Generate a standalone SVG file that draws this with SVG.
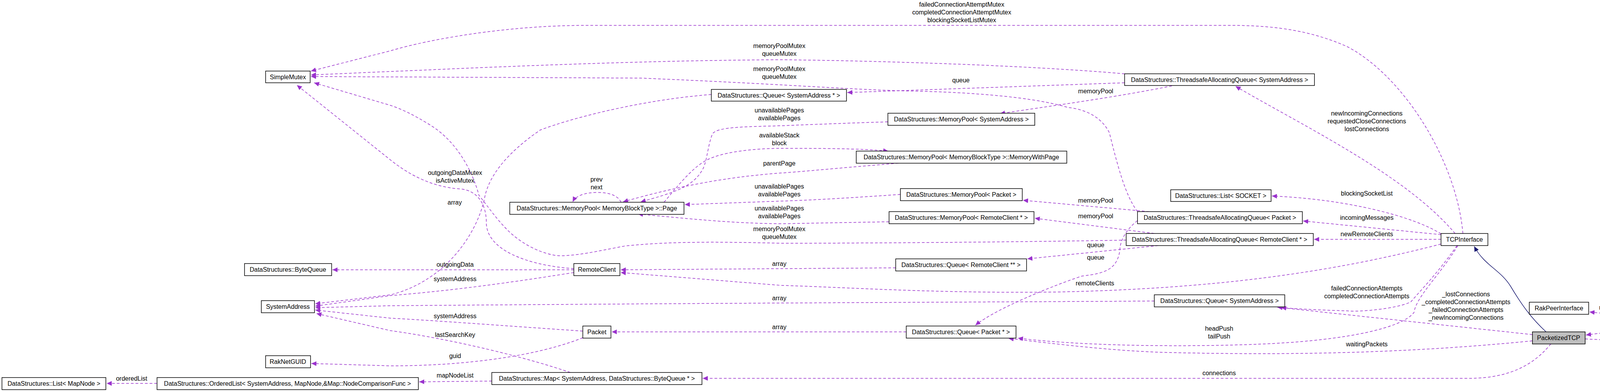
<svg xmlns="http://www.w3.org/2000/svg" width="4829" height="1004" viewBox="0 0 4829 1004">
<style>
text{font-family:"Liberation Sans",Arial,sans-serif;font-size:16px;fill:#000}
.n rect{fill:#fff;stroke:#000;stroke-width:1.5}
.n text{text-anchor:middle}
.e path{fill:none;stroke:#9a32cd;stroke-width:1.5;stroke-dasharray:7,5;marker-end:url(#a)}
.e path.inh{stroke:#191970;stroke-dasharray:none;marker-end:url(#b)}
.l text{text-anchor:middle}
</style>
<defs>
<marker id="a" markerWidth="14" markerHeight="12" refX="13" refY="6" orient="auto" markerUnits="userSpaceOnUse"><path d="M0,0 L13,6 L0,12 z" fill="#9a32cd"/></marker>
<marker id="b" markerWidth="14" markerHeight="12" refX="13" refY="6" orient="auto" markerUnits="userSpaceOnUse"><path d="M0,0 L13,6 L0,12 z" fill="#191970"/></marker>
</defs>
<rect width="4829" height="1004" fill="#fff"/>
<g class="e">
<path d="M3745,598 C3730,420 3600,200 3450,120 C3350,75 3250,65 3150,65 L1500,65 C1300,65 1100,100 1000,130 L796,182"/>
<path d="M3725,598 C3600,450 3350,330 3163,221"/>
<path d="M3689,599 C3620,555 3450,510 3256,502"/>
<path d="M3689,601 L3336,566"/>
<path d="M3689,613 L3364,613"/>
<path d="M3689,625 C3400,700 3100,740 2700,748 C2400,752 2150,735 2000,731 L1589,698"/>
<path d="M3730,629 C3680,700 3640,740 3612,773 C3580,790 3480,800 3446,796 C3400,795 3330,792 3270,787"/>
<path d="M3732,629 C3690,700 3625,760 3620,800 C3590,840 3450,870 3255,880 C3100,888 2800,890 2606,866"/>
<path d="M3923,857 L3280,788"/>
<path d="M3923,873 C3600,905 3300,910 3000,903 C2850,900 2700,880 2582,867"/>
<path d="M3970,881 C3930,930 3870,969 3760,969 L1799,969"/>
<path class="inh" d="M3958,850 C3920,815 3895,780 3867,733 C3840,690 3800,680 3774,631"/>
<path d="M4058,868 C4200,876 4350,877 4497,869"/>
<path d="M4244,816 L4069,799"/>
<path d="M4244,835 L4060,858"/>
<path d="M4505,843 L4389,831"/>
<path d="M2879,189 C2600,165 2200,155 2000,153 C1600,155 1200,175 1000,183 L796,192"/>
<path d="M2879,212 L2169,237"/>
<path d="M3000,220 C2850,250 2700,270 2560,291"/>
<path d="M2912,542 C2880,500 2860,420 2840,340 C2820,300 2780,280 2733,275 C2650,250 2500,236 2320,233 C2150,228 2000,215 1640,200 L796,196"/>
<path d="M2942,542 L2619,513"/>
<path d="M2912,565 C2880,590 2867,620 2867,640 C2860,690 2830,700 2770,707 C2700,730 2550,790 2497,833"/>
<path d="M2883,615 C2600,620 2200,623 2000,623 C1800,618 1700,620 1600,630 C1520,645 1480,655 1430,655 C1380,650 1330,620 1300,590 C1270,560 1250,530 1226,500 C1210,440 1170,360 1096,317 C1060,295 1030,280 1000,270 L804,212"/>
<path d="M2955,598 L2649,559"/>
<path d="M2965,629 L2630,663"/>
<path d="M1821,242 C1650,255 1470,300 1383,333 C1300,390 1250,450 1240,510 C1220,600 1140,720 1000,755 L807,778"/>
<path d="M2273,312 C2150,316 2050,320 2000,322 C1900,325 1830,325 1823,345 C1810,380 1810,420 1795,440 C1770,480 1720,495 1640,517"/>
<path d="M2300,418 C2150,430 2050,440 2000,443 C1880,452 1760,470 1595,517"/>
<path d="M1700,518 C1740,470 1780,420 1820,405 C1870,385 1950,380 2000,380 C2100,380 2200,380 2274,387"/>
<path d="M1590,518 C1580,498 1555,493 1529,493 C1500,493 1475,500 1466,517"/>
<path d="M2305,498 C2200,505 2100,512 2000,515 L1753,524"/>
<path d="M2276,568 L2000,573 C1900,572 1830,567 1633,548"/>
<path d="M1469,691 L851,691"/>
<path d="M1469,698 C1300,725 1150,745 1000,757 L807,784"/>
<path d="M1469,688 C1350,680 1245,640 1245,570 C1245,520 1220,488 1180,484 C1110,480 1050,450 1000,410 L760,218"/>
<path d="M2293,686 L1589,691"/>
<path d="M2955,771 C2500,774 2000,775 1000,783 L807,788"/>
<path d="M2320,850 L1566,850"/>
<path d="M1492,848 C1300,835 1100,820 1000,815 L807,794"/>
<path d="M1492,865 C1380,910 1200,937 1000,937 L797,931"/>
<path d="M1460,954 C1300,900 1100,860 1000,847 L810,803"/>
<path d="M1259,976 L1073,978"/>
<path d="M402,982 L273,982"/>
</g>
<g class="l">
<text x="2462" y="17">failedConnectionAttemptMutex</text>
<text x="2462" y="37">completedConnectionAttemptMutex</text>
<text x="2462" y="57">blockingSocketListMutex</text>
<text x="1995" y="123">memoryPoolMutex</text><text x="1995" y="143">queueMutex</text>
<text x="1995" y="182">memoryPoolMutex</text><text x="1995" y="202">queueMutex</text>
<text x="2460" y="211">queue</text>
<text x="2805" y="239">memoryPool</text>
<text x="1995" y="288">unavailablePages</text><text x="1995" y="308">availablePages</text>
<text x="1995" y="352">availableStack</text><text x="1995" y="372">block</text>
<text x="1995" y="424">parentPage</text>
<text x="1995" y="483">unavailablePages</text><text x="1995" y="503">availablePages</text>
<text x="1995" y="539">unavailablePages</text><text x="1995" y="559">availablePages</text>
<text x="1995" y="592">memoryPoolMutex</text><text x="1995" y="612">queueMutex</text>
<text x="1995" y="681">array</text>
<text x="1995" y="769">array</text>
<text x="1995" y="843">array</text>
<text x="2805" y="519">memoryPool</text>
<text x="2805" y="559">memoryPool</text>
<text x="2805" y="633">queue</text>
<text x="2805" y="665">queue</text>
<text x="2803" y="731">remoteClients</text>
<text x="3499" y="296">newIncomingConnections</text>
<text x="3499" y="316">requestedCloseConnections</text>
<text x="3499" y="336">lostConnections</text>
<text x="3499" y="501">blockingSocketList</text>
<text x="3499" y="563">incomingMessages</text>
<text x="3499" y="605">newRemoteClients</text>
<text x="3499" y="744">failedConnectionAttempts</text>
<text x="3499" y="764">completedConnectionAttempts</text>
<text x="3753" y="759">_lostConnections</text>
<text x="3753" y="779">_completedConnectionAttempts</text>
<text x="3753" y="799">_failedConnectionAttempts</text>
<text x="3753" y="819">_newIncomingConnections</text>
<text x="3121" y="847">headPush</text><text x="3121" y="867">tailPush</text>
<text x="3499" y="887">waitingPackets</text>
<text x="3121" y="961">connections</text>
<text x="4153" y="793">rakPeerInterface</text>
<text x="4153" y="831">packetizedTCP</text>
<text x="4443" y="827">listArray</text>
<text x="4316" y="863">messageHandlerList</text>
<text x="1165" y="448">outgoingDataMutex</text><text x="1165" y="468">isActiveMutex</text>
<text x="1527" y="465">prev</text><text x="1527" y="485">next</text>
<text x="1164" y="524">array</text>
<text x="1165" y="683">outgoingData</text>
<text x="1165" y="720">systemAddress</text>
<text x="1165" y="815">systemAddress</text>
<text x="1165" y="863">lastSearchKey</text>
<text x="1165" y="917">guid</text>
<text x="1165" y="967">mapNodeList</text>
<text x="337" y="975">orderedList</text>
</g>
<g id="n_simplemutex" class="n"><rect x="680" y="182" width="114" height="30"/><text x="737" y="203">SimpleMutex</text></g>
<g id="n_bytequeue" class="n"><rect x="626" y="675" width="223" height="31"/><text x="737" y="696">DataStructures::ByteQueue</text></g>
<g id="n_systemaddress" class="n"><rect x="669" y="770" width="136" height="31"/><text x="737" y="791">SystemAddress</text></g>
<g id="n_raknetguid" class="n"><rect x="680" y="911" width="115" height="31"/><text x="737" y="932">RakNetGUID</text></g>
<g id="n_listmapnode" class="n"><rect x="5" y="967" width="266" height="31"/><text x="138" y="988">DataStructures::List&lt; MapNode &gt;</text></g>
<g id="n_orderedlist" class="n"><rect x="402" y="967" width="669" height="31"/><text x="736" y="988">DataStructures::OrderedList&lt; SystemAddress, MapNode,&amp;Map::NodeComparisonFunc &gt;</text></g>
<g id="n_queuesaptr" class="n"><rect x="1821" y="229" width="346" height="30"/><text x="1994" y="250">DataStructures::Queue&lt; SystemAddress * &gt;</text></g>
<g id="n_page" class="n"><rect x="1305" y="518" width="446" height="31"/><text x="1528" y="539">DataStructures::MemoryPool&lt; MemoryBlockType &gt;::Page</text></g>
<g id="n_remoteclient" class="n"><rect x="1469" y="675" width="118" height="31"/><text x="1528" y="696">RemoteClient</text></g>
<g id="n_packet" class="n"><rect x="1492" y="835" width="72" height="31"/><text x="1528" y="856">Packet</text></g>
<g id="n_map" class="n"><rect x="1259" y="954" width="538" height="31"/><text x="1528" y="975">DataStructures::Map&lt; SystemAddress, DataStructures::ByteQueue * &gt;</text></g>
<g id="n_taqsa" class="n"><rect x="2879" y="189" width="486" height="30"/><text x="3122" y="210">DataStructures::ThreadsafeAllocatingQueue&lt; SystemAddress &gt;</text></g>
<g id="n_mpsa" class="n"><rect x="2273" y="290" width="376" height="31"/><text x="2461" y="311">DataStructures::MemoryPool&lt; SystemAddress &gt;</text></g>
<g id="n_mwp" class="n"><rect x="2192" y="387" width="539" height="31"/><text x="2461" y="408">DataStructures::MemoryPool&lt; MemoryBlockType &gt;::MemoryWithPage</text></g>
<g id="n_mppacket" class="n"><rect x="2305" y="483" width="312" height="31"/><text x="2461" y="504">DataStructures::MemoryPool&lt; Packet &gt;</text></g>
<g id="n_mprc" class="n"><rect x="2276" y="542" width="371" height="31"/><text x="2461" y="563">DataStructures::MemoryPool&lt; RemoteClient * &gt;</text></g>
<g id="n_queuerc" class="n"><rect x="2293" y="663" width="335" height="31"/><text x="2460" y="684">DataStructures::Queue&lt; RemoteClient ** &gt;</text></g>
<g id="n_queuepacket" class="n"><rect x="2320" y="835" width="281" height="31"/><text x="2460" y="856">DataStructures::Queue&lt; Packet * &gt;</text></g>
<g id="n_listsocket" class="n"><rect x="2997" y="486" width="257" height="30"/><text x="3125" y="507">DataStructures::List&lt; SOCKET &gt;</text></g>
<g id="n_taqpacket" class="n"><rect x="2912" y="542" width="422" height="31"/><text x="3123" y="563">DataStructures::ThreadsafeAllocatingQueue&lt; Packet &gt;</text></g>
<g id="n_taqrc" class="n"><rect x="2883" y="598" width="479" height="31"/><text x="3122" y="619">DataStructures::ThreadsafeAllocatingQueue&lt; RemoteClient * &gt;</text></g>
<g id="n_queuesa" class="n"><rect x="2955" y="755" width="334" height="31"/><text x="3122" y="776">DataStructures::Queue&lt; SystemAddress &gt;</text></g>
<g id="n_tcpinterface" class="n"><rect x="3689" y="598" width="120" height="31"/><text x="3749" y="619">TCPInterface</text></g>
<g id="n_rakpeerinterface" class="n"><rect x="3915" y="774" width="152" height="31"/><text x="3991" y="795">RakPeerInterface</text></g>
<g id="n_packetizedtcp" class="n"><rect x="3923" y="850" width="135" height="31" style="fill:#bfbfbf"/><text x="3990" y="871">PacketizedTCP</text></g>
<g id="n_plugininterface2" class="n"><rect x="4244" y="809" width="143" height="30"/><text x="4315" y="830">PluginInterface2</text></g>
<g id="n_listplugin" class="n"><rect x="4499" y="843" width="328" height="31"/><text x="4663" y="864">DataStructures::List&lt; PluginInterface2 * &gt;</text></g>
</svg>
